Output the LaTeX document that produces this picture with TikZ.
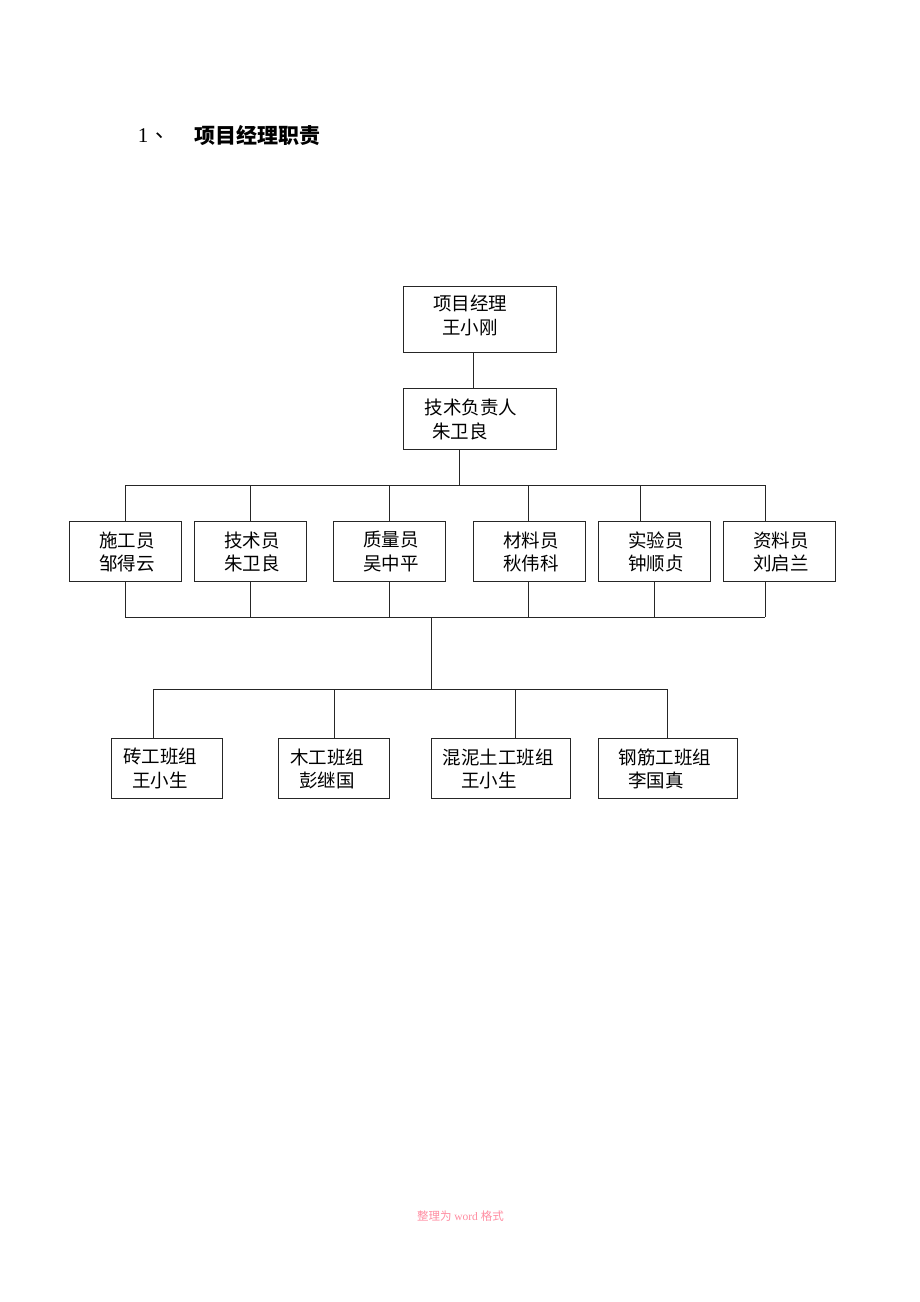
\documentclass[tikz,border=0pt]{standalone}
\usepackage{fontspec}
\setmainfont{Liberation Serif}
\newfontfamily\cjk{Noto Sans CJK SC}
\definecolor{lineC}{rgb}{0.15,0.15,0.15}
\definecolor{footC}{rgb}{1,0.55,0.63}
\begin{document}
\begin{tikzpicture}[x=1pt,y=-1pt,
  orgbox/.style={draw=lineC,line width=1pt,inner sep=0pt,minimum height=60pt},
  lbl/.style={inner sep=0pt,font=\cjk\fontsize{18.5}{20}\selectfont},
  conn/.style={draw=lineC,line width=1pt}]
\useasboundingbox (0,0) rectangle (920,1302);
% title
\node[inner sep=0pt,font=\fontsize{21}{24}\selectfont] (tnum) at (143,136) {1};
\node[inner sep=0pt,font=\cjk\fontsize{21}{24}\selectfont] (tsep) at (166,136) {、};
\node[inner sep=0pt,font=\cjk\bfseries\fontsize{21}{24}\selectfont] (title) at (257.5,136) {项目经理职责};
% top boxes
\node[orgbox,minimum width=153pt,minimum height=66pt] (pm) at (479.5,319) {};
\node[lbl] (pmA) at (470,303) {项目经理};
\node[lbl] (pmB) at (470,328) {王小刚};
\node[orgbox,minimum width=153pt,minimum height=61pt] (tl) at (479.5,418.5) {};
\node[lbl] (tlA) at (471,407) {技术负责人};
\node[lbl] (tlB) at (460,431) {朱卫良};
% middle boxes
\foreach \n/\cx/\a/\b in {m1/125/施工员/邹得云, m2/250/技术员/朱卫良, m3/389/质量员/吴中平, m4/529/材料员/秋伟科, m5/654/实验员/钟顺贞, m6/779/资料员/刘启兰}{
  \node[orgbox,minimum width=112pt] (\n) at (\cx,551) {};
  \node[lbl] (\n A) at (\cx+2,540) {\a};
  \node[lbl] (\n B) at (\cx+2,563) {\b};
}
% bottom boxes
\node[orgbox,minimum width=111pt] (b1) at (166.5,768) {};
\node[lbl] (b1A) at (160,757) {砖工班组};
\node[lbl] (b1B) at (160,780) {王小生};
\node[orgbox,minimum width=111pt] (b2) at (333.5,768) {};
\node[lbl] (b2A) at (327,757) {木工班组};
\node[lbl] (b2B) at (327,780) {彭继国};
\node[orgbox,minimum width=139pt] (b3) at (500.5,768) {};
\node[lbl] (b3A) at (498,757) {混泥土工班组};
\node[lbl] (b3B) at (489,780) {王小生};
\node[orgbox,minimum width=139pt] (b4) at (667.5,768) {};
\node[lbl] (b4A) at (665,757) {钢筋工班组};
\node[lbl] (b4B) at (656,780) {李国真};
% connectors
\coordinate (j0) at (459,485);
\coordinate (t1) at (125,485);
\coordinate (t2) at (250,485);
\coordinate (t3) at (389,485);
\coordinate (t4) at (528,485);
\coordinate (t5) at (640,485);
\coordinate (t6) at (765,485);
\coordinate (u1) at (125,617);
\coordinate (u2) at (250,617);
\coordinate (u3) at (389,617);
\coordinate (u4) at (528,617);
\coordinate (u5) at (654,617);
\coordinate (u6) at (765,617);
\coordinate (j1) at (431,617);
\coordinate (j2) at (431,689);
\coordinate (v1) at (153,689);
\coordinate (v2) at (334,689);
\coordinate (v3) at (515,689);
\coordinate (v4) at (667,689);
\draw[conn] ([xshift=-6.5pt]pm.south) -- ([xshift=-6.5pt]tl.north);
\draw[conn] ([xshift=-20.5pt]tl.south) -- (j0);
\draw[conn] (t1) -- (t6);
\foreach \i in {1,...,6}{
  \draw[conn] (t\i) -- (t\i |- m\i.north);
  \draw[conn] (u\i |- m\i.south) -- (u\i);
}
\draw[conn] (u1) -- (u6);
\draw[conn] (j1) -- (j2);
\draw[conn] (v1) -- (v4);
\foreach \i in {1,...,4}{
  \draw[conn] (v\i) -- (v\i |- b\i.north);
}
% footer
\node[inner sep=0pt,text=footC,font=\fontsize{11.5}{13}\selectfont] (foot) at (460.5,1216) {\cjk 整理为\ \rmfamily word\ \cjk 格式};
\end{tikzpicture}
\end{document}
